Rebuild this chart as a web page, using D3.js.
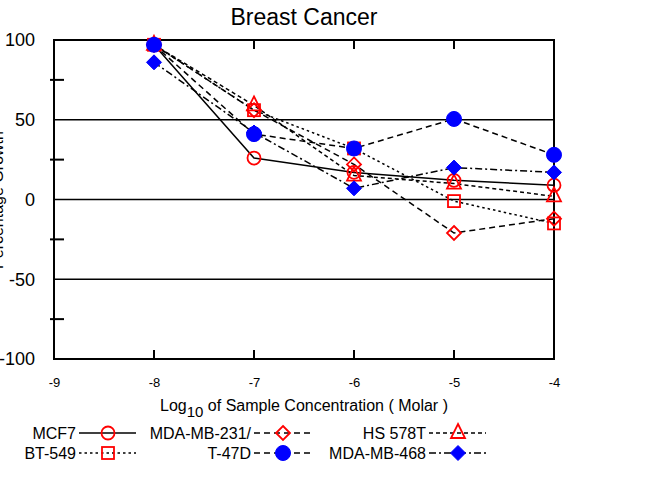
<!DOCTYPE html>
<html><head><meta charset="utf-8">
<script src="https://cdn.jsdelivr.net/npm/d3@7"></script>
<style>body{margin:0;background:#fff}svg{display:block;font-family:"Liberation Sans",Arial,sans-serif}</style>
</head><body><svg id="c" width="655" height="489"></svg>
<script>
const concentrations = [-8, -7, -6, -5, -4];
const seriesNames = ["MCF7", "BT-549", "MDA-MB-231/", "HS 578T", "T-47D", "MDA-MB-468"];
const mcf7 = [97, 26, 17, 12, 9];
const bt549 = [97, 56, 32, -1, -15];
const mdamb231 = [97, 56, 22, -21, -12];
const hs578t = [97, 59, 15, 10, 2];
const t47d = [97, 41, 32, 50.5, 28];
const mdamb468 = [86, 42, 7, 20, 17];
const xTicks = [-9, -8, -7, -6, -5, -4];
const yTicks = [-100, -50, 0, 50, 100];
const yMinor = [-75, -25, 25, 75];

const styles = {
  "MCF7": {dash: null, sym: "circle", fill: "none", color: "#f00"},
  "BT-549": {dash: "2.5,3", sym: "square", fill: "none", color: "#f00"},
  "MDA-MB-231/": {dash: "6,4", sym: "diamond", fill: "none", color: "#f00"},
  "HS 578T": {dash: "4,3", sym: "triangle", fill: "none", color: "#f00"},
  "T-47D": {dash: "6,4", sym: "circle", fill: "#00f", color: "#00f"},
  "MDA-MB-468": {dash: "7,3,2,3", sym: "diamond", fill: "#00f", color: "#00f"}
};
const valuesByName = {"MCF7": mcf7, "BT-549": bt549, "MDA-MB-231/": mdamb231, "HS 578T": hs578t, "T-47D": t47d, "MDA-MB-468": mdamb468};

const svg = d3.select("#c");
const L = 54, R = 554, T = 40, B = 359;
const x = d3.scaleLinear().domain([-9, -4]).range([L, R]);
const y = d3.scaleLinear().domain([-100, 100]).range([B, T]);

// gridlines
svg.append("g").selectAll("line").data([50, 0, -50]).join("line")
  .attr("x1", L).attr("x2", R).attr("y1", d => y(d)).attr("y2", d => y(d))
  .attr("stroke", "#000").attr("stroke-width", 1.5);

// frame
svg.append("rect").attr("x", L).attr("y", T).attr("width", R - L).attr("height", B - T)
  .attr("fill", "none").attr("stroke", "#000").attr("stroke-width", 2);

// left axis labels
const yAxis = d3.axisLeft(y).tickValues(yTicks).tickSize(0).tickPadding(19).tickFormat(d => String(d));
const gy = svg.append("g").attr("transform", `translate(${L},0)`).call(yAxis);
gy.select(".domain").remove();
gy.selectAll("text").attr("font-size", 18).attr("font-family", "Liberation Sans, Arial, sans-serif").attr("fill", "#000");
// minor ticks on left
svg.append("g").selectAll("line").data(yMinor).join("line")
  .attr("x1", L - 4).attr("x2", L + 10).attr("y1", d => y(d)).attr("y2", d => y(d))
  .attr("stroke", "#000").attr("stroke-width", 2);

// bottom axis
const xAxis = d3.axisBottom(x).tickValues(xTicks).tickSize(0).tickPadding(19).tickFormat(d => String(d));
const gx = svg.append("g").attr("transform", `translate(0,${B})`).call(xAxis);
gx.select(".domain").remove();
gx.selectAll("text").attr("font-size", 13).attr("font-family", "Liberation Sans, Arial, sans-serif").attr("fill", "#000");
const inner = [-8, -7, -6, -5];
svg.append("g").selectAll("line").data(inner).join("line")
  .attr("x1", d => x(d)).attr("x2", d => x(d)).attr("y1", B).attr("y2", B - 9)
  .attr("stroke", "#000").attr("stroke-width", 2);
svg.append("g").selectAll("line").data(inner).join("line")
  .attr("x1", d => x(d)).attr("x2", d => x(d)).attr("y1", T).attr("y2", T + 9)
  .attr("stroke", "#000").attr("stroke-width", 2);

// title
svg.append("text").attr("x", 304).attr("y", 25).attr("text-anchor", "middle")
  .attr("font-size", 23).text("Breast Cancer");

// x label
const xl = svg.append("text").attr("x", 304).attr("y", 411).attr("text-anchor", "middle").attr("font-size", 16);
xl.append("tspan").text("Log");
xl.append("tspan").attr("dy", 6).attr("font-size", 15).text("10");
xl.append("tspan").attr("dy", -6).text(" of Sample Concentration ( Molar )");

// y label
svg.append("text").attr("transform", "translate(3,200) rotate(-90)").attr("text-anchor", "middle")
  .attr("font-size", 16).text("Percentage Growth");

// symbol drawing
function drawSymbol(g, sym, cx, cy, st) {
  let el;
  if (sym === "circle") {
    el = g.append("circle").attr("cx", cx).attr("cy", cy).attr("r", st.fill === "none" ? 6.5 : 7.5);
  } else if (sym === "square") {
    el = g.append("rect").attr("x", cx - 6).attr("y", cy - 6).attr("width", 12).attr("height", 12);
  } else if (sym === "diamond") {
    const r = st.fill === "none" ? 7 : 7.5;
    el = g.append("path").attr("d", `M${cx},${cy - r}L${cx + r},${cy}L${cx},${cy + r}L${cx - r},${cy}Z`);
  } else if (sym === "triangle") {
    el = g.append("path").attr("d", `M${cx},${cy - 9}L${cx + 7},${cy + 5}L${cx - 7},${cy + 5}Z`);
  }
  el.attr("fill", st.fill).attr("stroke", st.color).attr("stroke-width", st.fill === "none" ? 1.8 : 1);
}

const line = d3.line().x(d => x(d[0])).y(d => y(d[1]));
const drawOrder = ["HS 578T", "MDA-MB-231/", "BT-549", "MCF7", "T-47D", "MDA-MB-468"];
const linesG = svg.append("g");
const marksG = svg.append("g");
drawOrder.forEach(name => {
  const st = styles[name];
  const pts = concentrations.map((c, i) => [c, valuesByName[name][i]]);
  linesG.append("path").attr("d", line(pts)).attr("fill", "none").attr("stroke", "#000")
    .attr("stroke-width", 1.5).attr("stroke-dasharray", st.dash);
});
drawOrder.forEach(name => {
  const st = styles[name];
  concentrations.forEach((c, i) => drawSymbol(marksG, st.sym, x(c), y(valuesByName[name][i]), st));
});

// legend
const legendLayout = [
  {name: "MCF7", tx: 76, ty: 433},
  {name: "MDA-MB-231/", tx: 251, ty: 433},
  {name: "HS 578T", tx: 426, ty: 433},
  {name: "BT-549", tx: 76, ty: 453},
  {name: "T-47D", tx: 251, ty: 453},
  {name: "MDA-MB-468", tx: 426, ty: 453}
];
const lg = svg.append("g");
legendLayout.forEach(l => {
  const st = styles[l.name];
  lg.append("text").attr("x", l.tx).attr("y", l.ty + 6).attr("text-anchor", "end").attr("font-size", 16).text(l.name);
  lg.append("line").attr("x1", l.tx + 3).attr("x2", l.tx + 60).attr("y1", l.ty).attr("y2", l.ty)
    .attr("stroke", "#000").attr("stroke-width", 1.5).attr("stroke-dasharray", st.dash);
  drawSymbol(lg, st.sym, l.tx + 32, l.ty, st);
});
</script></body></html>
